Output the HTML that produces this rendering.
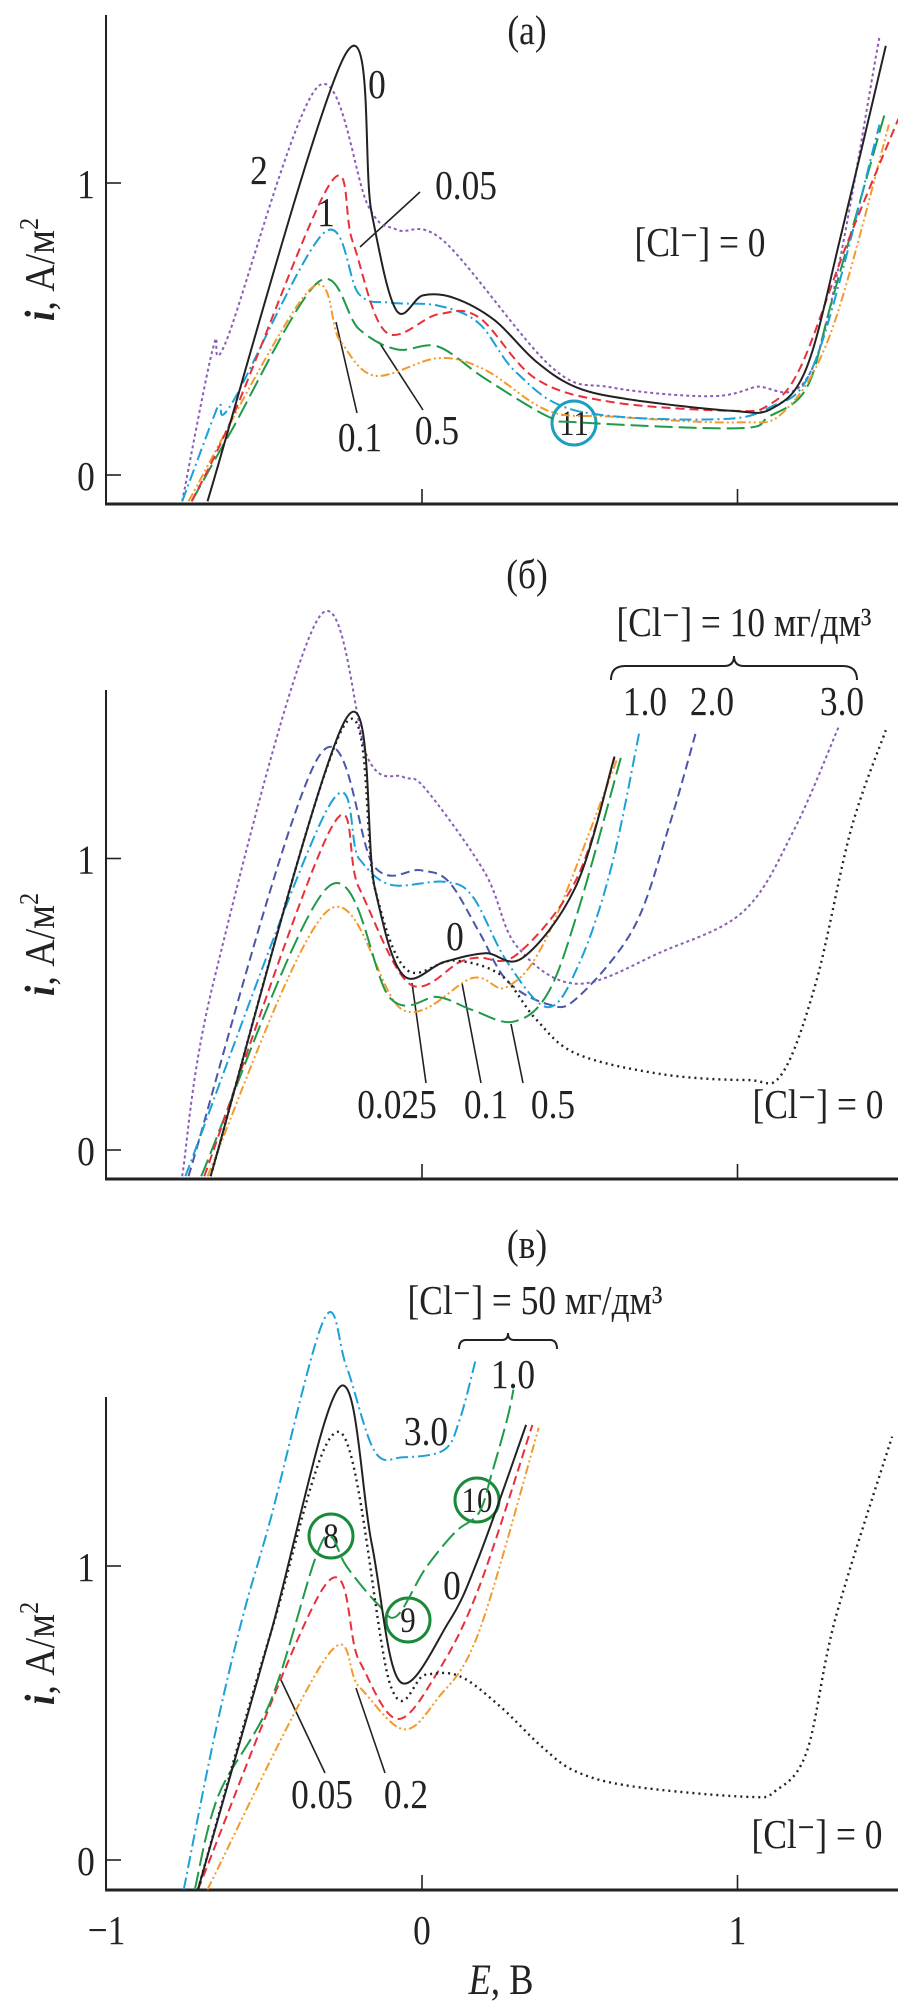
<!DOCTYPE html>
<html><head><meta charset="utf-8"><style>
body{margin:0;background:#fff}
svg{display:block}
text{font-family:"Liberation Serif",serif;fill:#222}
</style></head><body>
<svg id="chart" width="898" height="2003" viewBox="0 0 898 2003" xmlns="http://www.w3.org/2000/svg">
<g id="static"></g>
<g id="marks"></g>
</svg>
<script>
// X axis ticks & labels
const xTicks = [-1, 0, 1];
const xTickLabels = ["\u22121", "0", "1"];
const yTicks = [0, 1];
const yTickLabels = ["0", "1"];

// Panel (a): [Cl-] = 0, curves labeled by additive concentration
const aNames = ["0", "0.05", "1", "2", "0.1", "0.5"];
const a0E = [-0.68,-0.243,-0.16,-0.082,0.003,0.10,0.23,0.36,0.49,0.67,0.98,1.11,1.22,1.33,1.47];
const a0I = [-0.09,1.44,0.9,0.565,0.615,0.607,0.53,0.39,0.30,0.257,0.22,0.228,0.37,0.83,1.47];
const a005E = [-0.73,-0.6,-0.29,-0.22,-0.115,0.05,0.18,0.36,0.6,0.98,1.1,1.2,1.35,1.51];
const a005I = [-0.09,0.2,1.0,0.8,0.49,0.55,0.54,0.33,0.25,0.22,0.24,0.37,0.8,1.22];
const a1E = [-0.76,-0.66,-0.64,-0.6,-0.31,-0.2,-0.1,0.05,0.18,0.3,0.49,0.9,1.1,1.25,1.45];
const a1I = [-0.09,0.2,0.24,0.25,0.83,0.62,0.59,0.58,0.52,0.35,0.22,0.19,0.23,0.4,1.2];
const a2E = [-0.76,-0.66,-0.62,-0.33,-0.17,-0.08,0.07,0.41,0.6,0.9,1.05,1.25,1.45];
const a2I = [-0.09,0.445,0.46,1.33,0.92,0.84,0.80,0.37,0.3,0.27,0.3,0.4,1.5];
const a01E = [-0.74,-0.36,-0.26,-0.15,0.05,0.2,0.4,0.6,1.0,1.15,1.3,1.48];
const a01I = [-0.09,0.63,0.46,0.34,0.40,0.36,0.22,0.2,0.18,0.22,0.5,1.2];
const a05E = [-0.73,-0.61,-0.33,-0.2,-0.08,0.05,0.2,0.4,0.5,1.0,1.1,1.22,1.3,1.47];
const a05I = [-0.09,0.14,0.66,0.5,0.43,0.44,0.33,0.2,0.18,0.16,0.2,0.3,0.6,1.25];

// Panel (б): [Cl-] = 10 mg/dm3
const b0E = [-0.67,-0.243,-0.15,-0.06,0.07,0.2,0.32,0.49,0.61];
const b0I = [-0.09,1.475,0.9,0.60,0.645,0.675,0.66,0.91,1.35];
const bRefE = [-0.67,-0.25,-0.15,-0.05,0.1,0.25,0.36,0.49,0.76,1.03,1.14,1.25,1.36,1.47];
const bRefI = [-0.09,1.45,0.9,0.62,0.65,0.6,0.45,0.33,0.26,0.24,0.26,0.58,1.1,1.44];
const b3E = [-0.76,-0.66,-0.325,-0.17,-0.06,0.01,0.2,0.3,0.49,0.76,1.02,1.18,1.32];
const b3I = [-0.09,0.58,1.83,1.34,1.28,1.24,0.95,0.70,0.57,0.68,0.82,1.1,1.45];
const b2E = [-0.74,-0.33,-0.15,-0.005,0.085,0.18,0.27,0.4,0.49,0.67,0.78,0.87];
const b2I = [-0.09,1.345,0.97,0.96,0.92,0.75,0.58,0.50,0.52,0.76,1.1,1.44];
const b1E = [-0.75,-0.3,-0.2,-0.1,0.07,0.16,0.27,0.4,0.5,0.6,0.69];
const b1I = [-0.09,1.17,1.0,0.91,0.92,0.87,0.645,0.49,0.645,0.97,1.44];
const b0025E = [-0.69,-0.29,-0.2,-0.04,0.12,0.18,0.3,0.49,0.61];
const b0025I = [-0.09,1.1,0.9,0.57,0.645,0.66,0.67,0.93,1.345];
const b05E = [-0.7,-0.3,-0.1,0.05,0.16,0.29,0.4,0.5,0.63];
const b05I = [-0.09,0.90,0.52,0.525,0.48,0.44,0.54,0.84,1.345];
const b01E = [-0.68,-0.3,-0.06,0.16,0.27,0.4,0.62];
const b01I = [-0.09,0.82,0.48,0.59,0.56,0.74,1.345];

// Panel (в): [Cl-] = 50 mg/dm3
const c3E = [-0.755,-0.66,-0.57,-0.48,-0.31,-0.24,-0.15,-0.06,0.07,0.12,0.17];
const c3I = [-0.1,0.41,0.82,1.16,1.84,1.68,1.39,1.37,1.395,1.5,1.70];
const c0E = [-0.71,-0.48,-0.26,-0.16,-0.07,0.085,0.18,0.33];
const c0I = [-0.1,0.77,1.61,1.08,0.607,0.81,1.03,1.48];
const cRefE = [-0.71,-0.48,-0.26,-0.1,0.01,0.12,0.25,0.38,0.49,0.67,1.03,1.12,1.22,1.31,1.49];
const cRefI = [-0.1,0.77,1.455,0.595,0.63,0.625,0.52,0.385,0.30,0.25,0.215,0.235,0.37,0.82,1.44];
const c1E = [-0.72,-0.645,-0.48,-0.34,-0.29,-0.24,-0.14,-0.08,0.01,0.105,0.18,0.22,0.27,0.29];
const c1I = [-0.1,0.22,0.54,1.02,1.1,1.0,0.87,0.83,0.99,1.115,1.18,1.31,1.5,1.6];
const c005E = [-0.71,-0.31,-0.2,-0.08,0.05,0.18,0.35];
const c005I = [-0.1,0.93,0.68,0.48,0.64,0.925,1.48];
const c02E = [-0.68,-0.3,-0.2,-0.06,0.05,0.18,0.37];
const c02I = [-0.1,0.695,0.59,0.445,0.55,0.775,1.47];

const NS = "http://www.w3.org/2000/svg";
const panels = [
  {id:"a", y0:475, y1:183, top:15, bottom:504},
  {id:"b", y0:1150, y1:858.5, top:690, bottom:1179},
  {id:"c", y0:1860, y1:1566, top:1397, bottom:1890}
];
function xScale(e){ return 422 + 315.5*e; }
function yScale(p, i){ return p.y0 + (p.y1 - p.y0)*i; }

const COL = {black:"#222", red:"#e8303a", blue:"#1ba0d8", purple:"#8a5cb8", orange:"#f39a2b", green:"#1f9a48", navy:"#4b55a8"};
const DASH = {solid:"", dashed:"9 5", dashdot:"12 4 2 4", dashdotdot:"9 3 2 3 2 3", longdash:"18 6", dotted:"2 4", shortdot:"3 3"};

function smoothPath(pts){
  let d = "M" + pts[0][0].toFixed(1) + "," + pts[0][1].toFixed(1);
  for (let k = 0; k < pts.length - 1; k++){
    const p0 = pts[Math.max(0,k-1)], p1 = pts[k], p2 = pts[k+1], p3 = pts[Math.min(pts.length-1,k+2)];
    const c1x = p1[0] + (p2[0]-p0[0])/6, c1y = p1[1] + (p2[1]-p0[1])/6;
    const c2x = p2[0] - (p3[0]-p1[0])/6, c2y = p2[1] - (p3[1]-p1[1])/6;
    d += "C" + c1x.toFixed(1)+","+c1y.toFixed(1)+" "+c2x.toFixed(1)+","+c2y.toFixed(1)+" "+p2[0].toFixed(1)+","+p2[1].toFixed(1);
  }
  return d;
}
const marks = document.getElementById("marks");
const stat = document.getElementById("static");

function drawCurve(p, E, I, color, dash, name){
  const pts = E.map((e, k) => [xScale(e), yScale(p, I[k])]);
  const path = document.createElementNS(NS, "path");
  path.setAttribute("d", smoothPath(pts));
  path.setAttribute("fill", "none");
  path.setAttribute("stroke", color);
  path.setAttribute("stroke-width", dash === DASH.dotted ? "2.4" : "2");
  if (dash) path.setAttribute("stroke-dasharray", dash);
  
  
  marks.appendChild(path);
}
function line(x1,y1,x2,y2,name,w){
  const l = document.createElementNS(NS,"line");
  l.setAttribute("x1",x1); l.setAttribute("y1",y1); l.setAttribute("x2",x2); l.setAttribute("y2",y2);
  l.setAttribute("stroke","#222"); l.setAttribute("stroke-width", w || 1.6);
  
  
  stat.appendChild(l);
}
function txt(x,y,s,name,size,anchor){
  const t = document.createElementNS(NS,"text");
  t.setAttribute("x",0); t.setAttribute("y",0);
  t.setAttribute("transform","translate(" + x + "," + (y + 2) + ") scale(0.85,1)");
  t.setAttribute("font-size", (size || 32) * 1.3);
  t.setAttribute("text-anchor", anchor || "middle");
  t.textContent = s;
  
  
  stat.appendChild(t);
  return t;
}
function circ(cx,cy,color,name){
  const c = document.createElementNS(NS,"ellipse");
  c.setAttribute("cx",cx); c.setAttribute("cy",cy); c.setAttribute("rx",22); c.setAttribute("ry",22);
  c.setAttribute("fill","#fff"); c.setAttribute("stroke",color); c.setAttribute("stroke-width",3);
  
  
  stat.appendChild(c);
}

// Axes
panels.forEach(p => {
  line(106, p.top, 106, p.bottom, "y-axis-" + p.id, 2);
  line(105, p.bottom, 898, p.bottom, "x-axis-" + p.id, 3);
  xTicks.forEach(v => { if (v !== -1) line(xScale(v), p.bottom, xScale(v), p.bottom - 15, "x-tick-" + p.id); });
  yTicks.forEach((v, k) => {
    const y = yScale(p, v);
    line(106, y, 121, y, "y-tick-" + p.id);
    txt(86, y + 13, yTickLabels[k], "y-tick-label-" + p.id, 32);
  });
  const cy = (p.top + p.bottom)/2 + 10;
  const t = document.createElementNS(NS,"text");
  t.setAttribute("transform","translate(54," + cy + ") rotate(-90) scale(0.9,1)");
  t.setAttribute("font-size", 42);
  t.setAttribute("text-anchor","middle");
  t.innerHTML = '<tspan font-weight="bold" font-style="italic">i</tspan>, А/м<tspan dy="-16" font-size="27">2</tspan>';
  
  
  stat.appendChild(t);
});
const pc = panels[2];
xTicks.forEach((v, k) => txt(xScale(v), 1942, xTickLabels[k], "x-tick-label", 32));
const xt = txt(501, 1992, "", "x-axis-title", 33);
xt.innerHTML = '<tspan font-style="italic">E</tspan>, В';

// Panel a curves
const pa = panels[0];
drawCurve(pa, a2E, a2I, COL.purple, DASH.shortdot, "curve-a-2");
drawCurve(pa, a05E, a05I, COL.green, DASH.longdash, "curve-a-0.5");
drawCurve(pa, a01E, a01I, COL.orange, DASH.dashdotdot, "curve-a-0.1");
drawCurve(pa, a1E, a1I, COL.blue, DASH.dashdot, "curve-a-1");
drawCurve(pa, a005E, a005I, COL.red, DASH.dashed, "curve-a-0.05");
drawCurve(pa, a0E, a0I, COL.black, DASH.solid, "curve-a-0");
// Panel b curves
const pb = panels[1];
drawCurve(pb, b3E, b3I, COL.purple, DASH.shortdot, "curve-b-3.0");
drawCurve(pb, b2E, b2I, COL.navy, DASH.dashed, "curve-b-2.0");
drawCurve(pb, b1E, b1I, COL.blue, DASH.dashdot, "curve-b-1.0");
drawCurve(pb, b01E, b01I, COL.orange, DASH.dashdotdot, "curve-b-0.1");
drawCurve(pb, b05E, b05I, COL.green, DASH.longdash, "curve-b-0.5");
drawCurve(pb, b0025E, b0025I, COL.red, DASH.dashed, "curve-b-0.025");
drawCurve(pb, bRefE, bRefI, COL.black, DASH.dotted, "curve-b-cl0");
drawCurve(pb, b0E, b0I, COL.black, DASH.solid, "curve-b-0");
// Panel c curves
drawCurve(pc, c3E, c3I, COL.blue, DASH.dashdot, "curve-c-3.0");
drawCurve(pc, c02E, c02I, COL.orange, DASH.dashdotdot, "curve-c-0.2");
drawCurve(pc, c005E, c005I, COL.red, DASH.dashed, "curve-c-0.05");
drawCurve(pc, c1E, c1I, COL.green, DASH.longdash, "curve-c-1.0");
drawCurve(pc, cRefE, cRefI, COL.black, DASH.dotted, "curve-c-cl0");
drawCurve(pc, c0E, c0I, COL.black, DASH.solid, "curve-c-0");

// Panel a annotations
txt(527, 42, "(а)", "panel-title-a", 32);
txt(377, 96, "0", "label-a-0", 32);
txt(259, 182, "2", "label-a-2", 32);
txt(326, 224, "1", "label-a-1", 32);
txt(466, 197, "0.05", "label-a-0.05", 32);
line(420, 192, 360, 247, "leader-a-0.05");
txt(700, 254, "[Cl\u207B] = 0", "annotation-a-cl", 32);
txt(360, 449, "0.1", "label-a-0.1", 32);
line(357, 413, 336, 322, "leader-a-0.1");
txt(437, 442, "0.5", "label-a-0.5", 32);
line(423, 410, 379, 342, "leader-a-0.5");
circ(574, 423, "#1a9fc0", "circle-a-11");
txt(574, 433, "11", "label-a-11", 28);

// Panel b annotations
txt(527, 586, "(б)", "panel-title-b", 32);
txt(744, 634, "[Cl\u207B] = 10 мг/дм\u00B3", "annotation-b-cl", 32);
const br = document.createElementNS(NS,"path");
br.setAttribute("d","M611,680 Q611,666 625,666 L724,666 Q734,666 734,656 Q734,666 744,666 L843,666 Q857,666 857,680");
br.setAttribute("fill","none"); br.setAttribute("stroke","#222"); br.setAttribute("stroke-width","2");


stat.appendChild(br);
txt(645, 713, "1.0", "label-b-1.0", 32);
txt(712, 713, "2.0", "label-b-2.0", 32);
txt(842, 713, "3.0", "label-b-3.0", 32);
txt(455, 948, "0", "label-b-0", 32);
txt(397, 1116, "0.025", "label-b-0.025", 32);
txt(486, 1116, "0.1", "label-b-0.1", 32);
txt(553, 1116, "0.5", "label-b-0.5", 32);
line(426, 1083, 412, 983, "leader-b-0.025");
line(481, 1083, 462, 983, "leader-b-0.1");
line(523, 1083, 511, 1024, "leader-b-0.5");
txt(818, 1116, "[Cl\u207B] = 0", "annotation-b-cl0", 32);

// Panel c annotations
txt(527, 1256, "(в)", "panel-title-c", 32);
txt(535, 1312, "[Cl\u207B] = 50 мг/дм\u00B3", "annotation-c-cl", 32);
const br2 = document.createElementNS(NS,"path");
br2.setAttribute("d","M459,1349 Q459,1340 466,1340 L502,1340 Q508,1340 508,1333 Q508,1340 514,1340 L550,1340 Q557,1340 557,1349");
br2.setAttribute("fill","none"); br2.setAttribute("stroke","#222"); br2.setAttribute("stroke-width","2");


stat.appendChild(br2);
txt(513, 1386, "1.0", "label-c-1.0", 32);
txt(426, 1443, "3.0", "label-c-3.0", 32);
txt(452, 1597, "0", "label-c-0", 32);
circ(331, 1536, "#1a8a3a", "circle-c-8");
txt(331, 1546, "8", "label-c-8", 28);
circ(408, 1620, "#1a8a3a", "circle-c-9");
txt(408, 1630, "9", "label-c-9", 28);
circ(477, 1500, "#1a8a3a", "circle-c-10");
txt(477, 1510, "10", "label-c-10", 28);
txt(322, 1806, "0.05", "label-c-0.05", 32);
txt(406, 1806, "0.2", "label-c-0.2", 32);
line(325, 1773, 281, 1680, "leader-c-0.05");
line(385, 1773, 356, 1688, "leader-c-0.2");
txt(817, 1846, "[Cl\u207B] = 0", "annotation-c-cl0", 32);
</script>
</body></html>
